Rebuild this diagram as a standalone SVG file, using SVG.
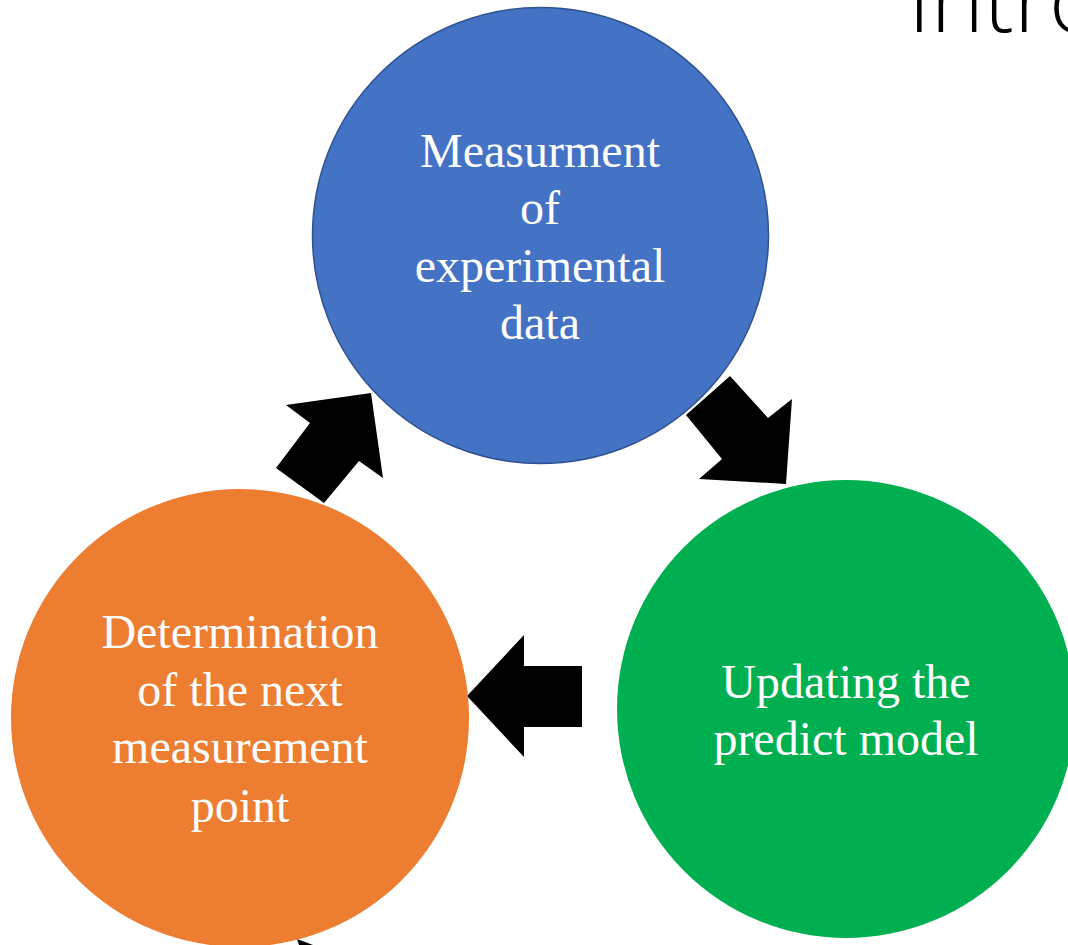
<svg xmlns="http://www.w3.org/2000/svg" width="1068" height="945" viewBox="0 0 1068 945">
  <style>
    .label { font-family: "Liberation Serif", "Times New Roman", serif; font-size: 48px; fill: #ffffff; text-anchor: middle; }
    .title { font-family: "Open Sans", "Lato", "Liberation Sans", sans-serif; font-weight: 300; font-size: 90px; fill: #000000; }
    .arrow { fill: #000000; }
  </style>
  <rect width="1068" height="945" fill="#ffffff"/>

  <!-- slide heading, running off the right edge -->
  <text class="title" x="908" y="32">Intro</text>

  <!-- block arrows between the stages -->
  <g id="connectors">
    <polygon class="arrow" points="730,376 768,418 792,399 786,484 699,479 722,459 686,415"/>
    <polygon class="arrow" points="467,696 524,635 524,666 582,666 582,727 524,727 524,757"/>
    <polygon class="arrow" points="371,393 286,405 310,423 276,468 324,503 359,461 383,478"/>
    <polygon class="arrow" points="297,939 313,945 299,945"/>
  </g>

  <g id="measure">
    <circle cx="540.5" cy="235.5" r="228" fill="#4472C4" stroke="#2F528F" stroke-width="1.5"/>
    <text class="label" x="540" y="167">Measurment</text>
    <text class="label" x="540" y="224">of</text>
    <text class="label" x="540" y="282">experimental</text>
    <text class="label" x="540" y="339">data</text>
  </g>

  <g id="update">
    <circle cx="846" cy="709" r="229" fill="#00B050"/>
    <text class="label" x="846" y="698">Updating the</text>
    <text class="label" x="846" y="755">predict model</text>
  </g>

  <g id="determine">
    <circle cx="240" cy="718" r="229" fill="#ED7D31"/>
    <text class="label" x="240" y="648">Determination</text>
    <text class="label" x="240" y="706">of the next</text>
    <text class="label" x="240" y="763">measurement</text>
    <text class="label" x="240" y="822">point</text>
  </g>
</svg>
